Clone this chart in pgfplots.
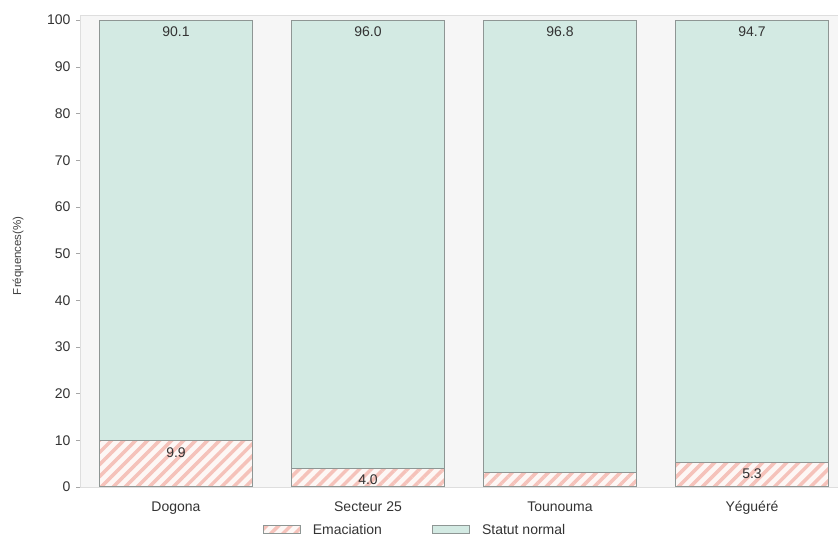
\documentclass[border=0pt]{standalone}
\usepackage{pgfplots}
\pgfplotsset{compat=1.18}
\usepackage{fontspec}
\setmainfont{Liberation Sans}
\usetikzlibrary{patterns.meta}
\definecolor{normalfill}{HTML}{D3EAE3}
\definecolor{hatchpink}{HTML}{F5C2BA}
\definecolor{hatchbg}{HTML}{FDF7F5}
\definecolor{bgray}{HTML}{F6F6F6}
\definecolor{edgegray}{HTML}{8E9694}
\begin{document}
\begin{tikzpicture}
\path[use as bounding box] (0pt,0pt) rectangle (838pt,540pt);
\begin{axis}[
  at={(80pt,53pt)}, anchor=south west,
  scale only axis, width=758pt, height=472pt,
  ybar, bar shift=0pt, bar width=153pt,
  xmin=-0.5, xmax=3.448, ymin=0, ymax=101.1,
  xtick={0,1,2,3},
  xticklabels={Dogona, Secteur 25, Tounouma, Yéguéré},
  ytick={0,10,...,100},
  axis background/.style={fill=bgray},
  axis line style={black!13},
  xtick style={draw=none},
  ytick style={black!35, thin},
  tick align=outside, major tick length=4pt,
  /pgf/number format/assume math mode=true,
  yticklabel style={font=\fontsize{14}{16}\selectfont, text=black!80, xshift=-2pt},
  xticklabel style={font=\fontsize{14}{16}\selectfont, text=black!80, yshift=-7pt},
  ylabel={Fréquences(\%)},
  every axis y label/.style={at={(axis description cs:-0.0818,0.49)}, rotate=90, anchor=center, font=\fontsize{11.5}{13}\selectfont, text=black!75},
  nodes near coords align={below},
  every node near coord/.append style={font=\fontsize{14}{16}\selectfont, text=black!80, anchor=north, yshift=-3pt},
  legend style={at={(axis description cs:0.442,-0.091)}, anchor=center, draw=none, fill=none,
    legend columns=2, font=\fontsize{14}{16}\selectfont, text=black!80,
    /tikz/every odd column/.append style={column sep=10pt},
    /tikz/every even column/.append style={column sep=48pt}},
  legend image code/.code={\draw[#1] (0pt,-4pt) rectangle (37pt,4pt);},
]
% Statut normal: drawn from 0 up to the stacked total (emaciation + normal = 100), labelled with its own share
\addplot[fill=normalfill, draw=edgegray, line width=1pt,
  nodes near coords, point meta=explicit symbolic, forget plot]
  coordinates {(0,100) [90.1] (1,100) [96.0] (2,100) [96.8] (3,100) [94.7]};
% Emaciation: lower segment
\addplot[fill=hatchbg, draw=edgegray, line width=1pt,
  postaction={pattern={Lines[angle=45,distance=8.5pt,line width=3.5pt]}, pattern color=hatchpink},
  nodes near coords, point meta=explicit symbolic]
  coordinates {(0,9.9) [9.9] (1,4.0) [4.0] (2,3.2) [{}] (3,5.3) [5.3]};
\addlegendentry{Emaciation}
\addlegendimage{fill=normalfill, draw=edgegray, line width=1pt}
\addlegendentry{Statut normal}
\end{axis}
\end{tikzpicture}
\end{document}
